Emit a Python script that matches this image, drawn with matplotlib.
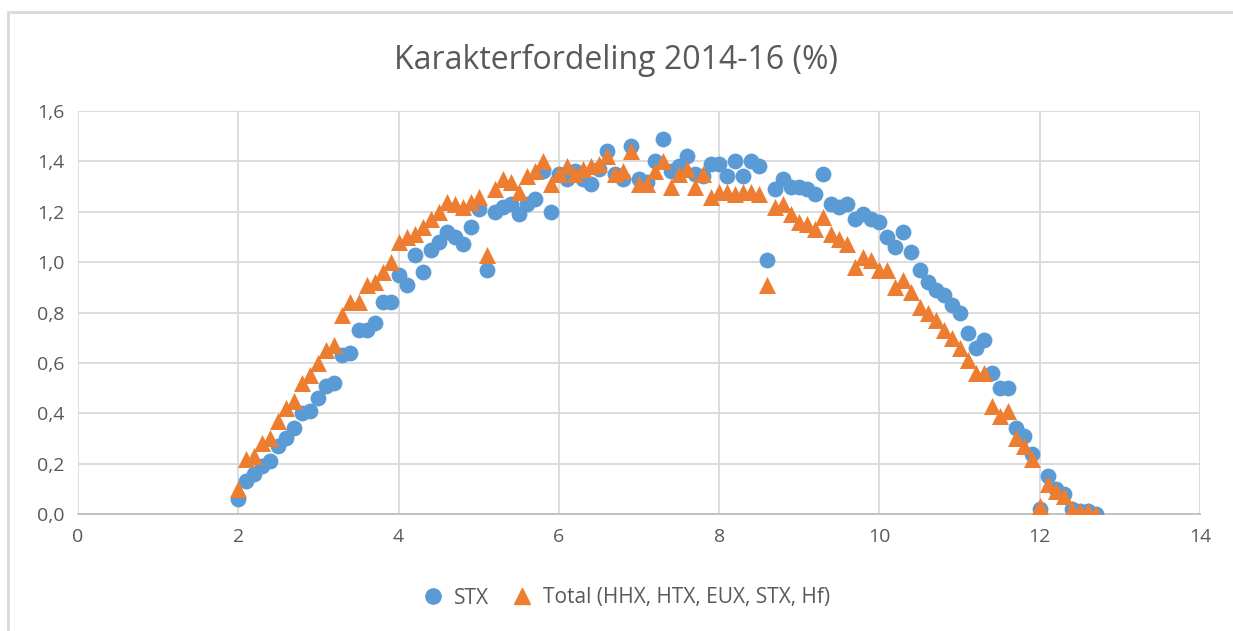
import matplotlib
matplotlib.use('Agg')
import matplotlib.pyplot as plt
import numpy as np
from matplotlib.ticker import FuncFormatter, MultipleLocator
from matplotlib.lines import Line2D

# grades 2.0 .. 12.7 in steps of 0.1
grades = [round(2.0 + 0.1 * i, 1) for i in range(108)]

stx = [0.06, 0.13, 0.16, 0.19, 0.21, 0.27, 0.30, 0.34, 0.40, 0.41,
       0.46, 0.51, 0.52, 0.63, 0.64, 0.73, 0.73, 0.76, 0.84, 0.84,
       0.95, 0.91, 1.03, 0.96, 1.05, 1.08, 1.12, 1.10, 1.07, 1.14,
       1.21, 0.97, 1.20, 1.22, 1.23, 1.19, 1.23, 1.25, 1.36, 1.20,
       1.35, 1.33, 1.36, 1.33, 1.31, 1.37, 1.44, 1.35, 1.33, 1.46,
       1.33, 1.32, 1.40, 1.49, 1.36, 1.38, 1.42, 1.35, 1.34, 1.39,
       1.39, 1.34, 1.40, 1.34, 1.40, 1.38, 1.01, 1.29, 1.33, 1.30,
       1.30, 1.29, 1.27, 1.35, 1.23, 1.22, 1.23, 1.17, 1.19, 1.17,
       1.16, 1.10, 1.06, 1.12, 1.04, 0.97, 0.92, 0.89, 0.87, 0.83,
       0.80, 0.72, 0.66, 0.69, 0.56, 0.50, 0.50, 0.34, 0.31, 0.24,
       0.02, 0.15, 0.10, 0.08, 0.02, 0.01, 0.01, 0.00]

total = [0.10, 0.22, 0.23, 0.28, 0.30, 0.37, 0.42, 0.45, 0.52, 0.55,
         0.60, 0.65, 0.67, 0.79, 0.84, 0.84, 0.91, 0.92, 0.96, 1.00,
         1.08, 1.10, 1.11, 1.14, 1.17, 1.20, 1.24, 1.23, 1.22, 1.24,
         1.26, 1.03, 1.29, 1.33, 1.32, 1.28, 1.34, 1.36, 1.40, 1.31,
         1.35, 1.38, 1.35, 1.37, 1.38, 1.39, 1.42, 1.35, 1.36, 1.44,
         1.31, 1.31, 1.36, 1.40, 1.30, 1.35, 1.37, 1.30, 1.35, 1.26,
         1.28, 1.28, 1.27, 1.28, 1.28, 1.27, 0.91, 1.22, 1.23, 1.19,
         1.16, 1.15, 1.13, 1.18, 1.11, 1.09, 1.07, 0.98, 1.02, 1.01,
         0.97, 0.97, 0.90, 0.93, 0.88, 0.82, 0.80, 0.77, 0.73, 0.70,
         0.66, 0.61, 0.56, 0.56, 0.43, 0.39, 0.41, 0.30, 0.27, 0.22,
         0.03, 0.12, 0.09, 0.07, 0.02, 0.01, 0.01, 0.00]

blue = '#5B9BD5'
orange = '#ED7D31'
txt = '#595959'
grid = '#D9D9D9'

plt.rcParams['font.family'] = ['Open Sans', 'DejaVu Sans']

fig = plt.figure(figsize=(12.33, 6.31), dpi=100)
ax = fig.add_axes([78 / 1233, 117 / 631, 1122 / 1233, 403 / 631])

ax.scatter(grades, stx, s=130, color=blue, marker='o', linewidths=0, zorder=3)
ax.scatter(grades, total, s=150, color=orange, marker='^', linewidths=0, zorder=4)

ax.set_xlim(0, 14)
ax.set_ylim(0, 1.6)
ax.xaxis.set_major_locator(MultipleLocator(2))
ax.yaxis.set_major_locator(MultipleLocator(0.2))
ax.yaxis.set_major_formatter(FuncFormatter(lambda v, p: f'{v:.1f}'.replace('.', ',')))
ax.grid(True, color=grid, linewidth=1.3, zorder=0)
ax.set_axisbelow(True)
for side in ['top', 'right', 'left']:
    ax.spines[side].set_visible(False)
ax.spines['bottom'].set_color('#BFBFBF')
ax.spines['bottom'].set_linewidth(1.3)
ax.tick_params(length=0, labelsize=14, colors=txt, pad=10)

fig.text(0.5, 1 - 60 / 631, 'Karakterfordeling 2014-16 (%)', ha='center', va='center',
         fontsize=23, color=txt)

handles = [Line2D([], [], marker='o', linestyle='', color=blue, markersize=11),
           Line2D([], [], marker='^', linestyle='', color=orange, markersize=12)]
fig.legend(handles, ['STX', 'Total (HHX, HTX, EUX, STX, Hf)'], loc='center',
           bbox_to_anchor=(621 / 1233, 1 - 598 / 631), ncol=2, frameon=False,
           fontsize=15, labelcolor=txt, handletextpad=0.0, columnspacing=0.6)

border = plt.Rectangle((8 / 1233, -0.05), 1.1, 1 - 12 / 631 + 0.05, transform=fig.transFigure,
                       fill=False, edgecolor='#D9D9D9', linewidth=2)
fig.patches.append(border)

fig.savefig('out.png', dpi=100)
